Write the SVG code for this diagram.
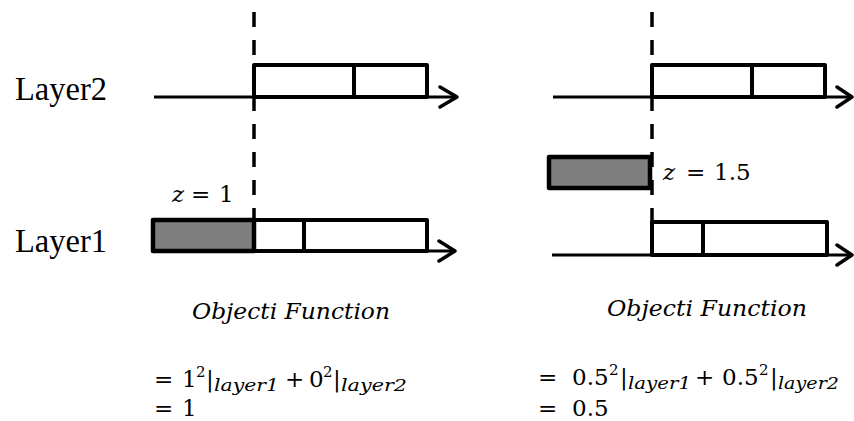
<svg xmlns="http://www.w3.org/2000/svg" width="854" height="421" viewBox="0 0 854 421">
  <style>
    .lbl { font-family: "Liberation Serif", "DejaVu Serif", serif; fill: #000; }
    .m { font-family: "DejaVu Serif", "Liberation Serif", serif; font-size: 23px; fill: #000; }
    .it { font-style: italic; }
    .sub { font-size: 16px; }
    .sup { font-size: 15px; }
    .box { fill: #fff; stroke: #000; stroke-width: 4; stroke-linejoin: round; }
    .grey { fill: #7f7f7f; stroke: #000; stroke-width: 4.5; stroke-linejoin: round; }
    .div { stroke: #000; stroke-width: 4; }
    .axis { stroke: #000; stroke-width: 3; fill: none; }
    .head { stroke: #000; stroke-width: 3.5; fill: none; stroke-linecap: round; stroke-linejoin: round; }
    .cut { stroke: #000; stroke-width: 3.5; stroke-dasharray: 15 13; fill: none; }
  </style>

  <!-- layer names -->
  <g id="label-layer2">
    <text class="lbl" x="15" y="100" font-size="33" textLength="92" lengthAdjust="spacingAndGlyphs">Layer2</text>
  </g>
  <g id="label-layer1">
    <text class="lbl" x="15" y="252" font-size="33" textLength="92" lengthAdjust="spacingAndGlyphs">Layer1</text>
  </g>

  <!-- time axes -->
  <g id="connectors">
    <line class="axis" x1="154" y1="97" x2="456" y2="97"/>
    <polyline class="head" points="440,87 457,97 440,107"/>
    <line class="axis" x1="153" y1="251" x2="454" y2="251"/>
    <polyline class="head" points="439,241 455,251 439,261"/>
    <line class="axis" x1="553" y1="97" x2="851" y2="97"/>
    <polyline class="head" points="837,87 852,97 837,107"/>
    <line class="axis" x1="552" y1="255" x2="851" y2="255"/>
    <polyline class="head" points="837,245 852,255 837,265"/>
  </g>

  <!-- left case: cut at z = 1 -->
  <g id="left-layer2-blocks">
    <rect class="box" x="254" y="65" width="173" height="32"/>
    <line class="div" x1="354" y1="65" x2="354" y2="97"/>
  </g>
  <g id="left-layer1-blocks">
    <rect class="box" x="153" y="220" width="274" height="31"/>
    <rect class="grey" x="153" y="220" width="101" height="31"/>
    <line class="div" x1="304" y1="220" x2="304" y2="251"/>
  </g>
  <g id="left-cut">
    <line class="cut" x1="254" y1="12" x2="254" y2="222"/>
    <text class="m it" x="172" y="202">z</text>
    <text class="m" x="191" y="202">=</text>
    <text class="m" x="219" y="202">1</text>
  </g>

  <!-- right case: cut at z = 1.5 -->
  <g id="right-layer2-blocks">
    <rect class="box" x="652" y="65" width="173" height="32"/>
    <line class="div" x1="752" y1="65" x2="752" y2="97"/>
  </g>
  <g id="right-moved-block">
    <rect class="grey" x="549" y="157" width="101" height="31"/>
  </g>
  <g id="right-layer1-blocks">
    <rect class="box" x="652" y="222" width="175" height="33"/>
    <line class="div" x1="703" y1="222" x2="703" y2="255"/>
  </g>
  <g id="right-cut">
    <line class="cut" x1="652" y1="12" x2="652" y2="224"/>
    <text class="m it" x="663" y="180">z</text>
    <text class="m" x="686" y="180">=</text>
    <text class="m" x="714" y="180">1.5</text>
  </g>

  <!-- objective values -->
  <g id="left-objective">
    <text class="m it" x="192" y="319" textLength="198" lengthAdjust="spacingAndGlyphs">Objecti Function</text>
    <text class="m" x="154" y="387">=</text>
    <text class="m" x="182" y="387">1</text>
    <text class="m sup" x="196" y="377">2</text>
    <text class="m" x="206" y="387">|</text>
    <text class="m it sub" x="214" y="391" textLength="65" lengthAdjust="spacingAndGlyphs">layer1</text>
    <text class="m" x="285" y="387">+</text>
    <text class="m" x="309" y="387">0</text>
    <text class="m sup" x="323" y="377">2</text>
    <text class="m" x="333" y="387">|</text>
    <text class="m it sub" x="341" y="391" textLength="66" lengthAdjust="spacingAndGlyphs">layer2</text>
    <text class="m" x="154" y="416">=</text>
    <text class="m" x="182" y="416">1</text>
  </g>
  <g id="right-objective">
    <text class="m it" x="607" y="316" textLength="200" lengthAdjust="spacingAndGlyphs">Objecti Function</text>
    <text class="m" x="538" y="385">=</text>
    <text class="m" x="572" y="385">0.5</text>
    <text class="m sup" x="609" y="375">2</text>
    <text class="m" x="620" y="385">|</text>
    <text class="m it sub" x="628" y="389" textLength="63" lengthAdjust="spacingAndGlyphs">layer1</text>
    <text class="m" x="695" y="385">+</text>
    <text class="m" x="722" y="385">0.5</text>
    <text class="m sup" x="759" y="375">2</text>
    <text class="m" x="770" y="385">|</text>
    <text class="m it sub" x="778" y="389" textLength="61" lengthAdjust="spacingAndGlyphs">layer2</text>
    <text class="m" x="538" y="416">=</text>
    <text class="m" x="572" y="416">0.5</text>
  </g>
</svg>
